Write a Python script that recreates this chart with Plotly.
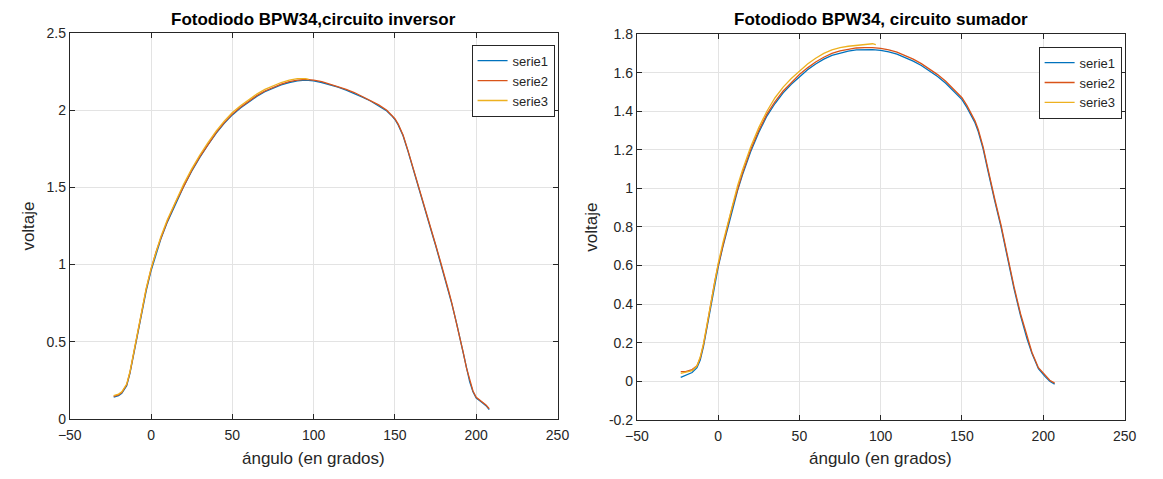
import plotly.graph_objects as go

# ---------------- data: left panel (circuito inversor) ----------------
inv_x12 = [-23, -20, -18, -15, -13, -11, -9, -6, -3, 0, 3, 6, 10, 15, 20, 25, 30, 35, 40, 45,
           50, 55, 60, 65, 70, 75, 80, 85, 90, 95, 100, 105, 110, 115, 120, 125, 130, 135, 140, 145,
           148, 150, 152, 155, 158, 160, 163, 165, 168, 170, 173, 175, 178, 180, 183, 185, 188, 190,
           192, 194, 196, 198, 200, 203, 206, 208]
inv_s1 = [0.14, 0.15, 0.165, 0.215, 0.295, 0.40, 0.51, 0.67, 0.83, 0.96, 1.07, 1.165, 1.275, 1.395, 1.505, 1.605, 1.695, 1.775, 1.85, 1.915,
          1.97, 2.015, 2.055, 2.09, 2.12, 2.145, 2.165, 2.18, 2.19, 2.195, 2.19, 2.18, 2.165, 2.15, 2.13, 2.11, 2.085, 2.06, 2.03, 1.995,
          1.965, 1.94, 1.905, 1.835, 1.735, 1.665, 1.555, 1.485, 1.375, 1.305, 1.195, 1.125, 1.015, 0.945, 0.825, 0.745, 0.615, 0.525,
          0.425, 0.325, 0.24, 0.175, 0.135, 0.11, 0.085, 0.06]
inv_s2 = [0.145, 0.155, 0.17, 0.22, 0.30, 0.41, 0.52, 0.68, 0.84, 0.97, 1.08, 1.17, 1.28, 1.40, 1.51, 1.61, 1.70, 1.78, 1.855, 1.92,
          1.975, 2.02, 2.06, 2.095, 2.125, 2.15, 2.17, 2.185, 2.195, 2.20, 2.195, 2.185, 2.17, 2.155, 2.135, 2.115, 2.09, 2.065, 2.035, 2.0,
          1.97, 1.945, 1.91, 1.84, 1.74, 1.67, 1.56, 1.49, 1.38, 1.31, 1.20, 1.13, 1.02, 0.95, 0.83, 0.75, 0.62, 0.53,
          0.43, 0.33, 0.245, 0.18, 0.14, 0.115, 0.09, 0.065]
inv_x3 = [-23, -20, -18, -15, -13, -11, -9, -6, -3, 0, 3, 6, 10, 15, 20, 25, 30, 35, 40, 45,
          50, 55, 60, 65, 70, 75, 80, 85, 90, 95, 97]
inv_s3 = [0.15, 0.16, 0.175, 0.225, 0.305, 0.41, 0.525, 0.685, 0.845, 0.975, 1.085, 1.18, 1.29, 1.41, 1.52, 1.62, 1.71, 1.79, 1.865, 1.93,
          1.985, 2.03, 2.07, 2.105, 2.135, 2.16, 2.18, 2.195, 2.205, 2.205, 2.20]

# ---------------- data: right panel (circuito sumador) ----------------
sum_x12 = [-23, -20, -16, -13, -11, -9, -7, -5, -2, 0, 3, 6, 9, 12, 15, 20, 25, 30, 35, 40,
           45, 50, 55, 60, 65, 70, 75, 80, 85, 90, 95, 100, 105, 110, 115, 120, 125, 130, 135, 140,
           145, 150, 153, 156, 158, 160, 163, 166, 168, 170, 174, 178, 182, 186, 190, 193, 197, 201, 204, 207]
sum_s1 = [0.02, 0.03, 0.045, 0.07, 0.11, 0.18, 0.27, 0.37, 0.51, 0.59, 0.70, 0.80, 0.90, 0.99, 1.07, 1.19, 1.29, 1.375, 1.44, 1.495,
          1.54, 1.58, 1.615, 1.645, 1.67, 1.69, 1.703, 1.712, 1.718, 1.72, 1.72, 1.716, 1.708, 1.696, 1.68, 1.66, 1.637, 1.61, 1.58, 1.545,
          1.505, 1.46, 1.42, 1.375, 1.34, 1.295, 1.205, 1.09, 1.01, 0.94, 0.80, 0.64, 0.48, 0.34, 0.22, 0.145, 0.065, 0.025, 0.0, -0.015]
sum_s2 = [0.05, 0.05, 0.06, 0.08, 0.12, 0.19, 0.28, 0.38, 0.52, 0.60, 0.71, 0.81, 0.91, 1.0, 1.08, 1.20, 1.30, 1.385, 1.45, 1.505,
          1.55, 1.59, 1.625, 1.655, 1.68, 1.70, 1.713, 1.722, 1.728, 1.73, 1.73, 1.726, 1.718, 1.706, 1.69, 1.67, 1.647, 1.62, 1.59, 1.555,
          1.515, 1.47, 1.43, 1.385, 1.35, 1.305, 1.215, 1.10, 1.02, 0.95, 0.81, 0.65, 0.49, 0.35, 0.23, 0.15, 0.07, 0.03, 0.005, -0.01]
sum_x3 = [-23, -20, -16, -13, -11, -9, -7, -5, -2, 0, 3, 6, 9, 12, 15, 20, 25, 30, 35, 40,
          45, 50, 55, 60, 65, 70, 75, 80, 85, 90, 95, 97]
sum_s3 = [0.04, 0.045, 0.055, 0.08, 0.125, 0.195, 0.29, 0.39, 0.53, 0.61, 0.72, 0.82, 0.925, 1.015, 1.095, 1.215, 1.315, 1.40, 1.47, 1.525,
          1.57, 1.61, 1.645, 1.675, 1.70, 1.718, 1.73, 1.737, 1.742, 1.745, 1.75, 1.745]

series_names = ["serie1", "serie2", "serie3"]
colors = ["#0072BD", "#D95319", "#EDB120"]

x_ticks = [-50, 0, 50, 100, 150, 200, 250]
inv_yticks = [0, 0.5, 1, 1.5, 2, 2.5]
inv_ytext = ["0", "0.5", "1", "1.5", "2", "2.5"]
sum_yticks = [-0.2, 0, 0.2, 0.4, 0.6, 0.8, 1, 1.2, 1.4, 1.6, 1.8]
sum_ytext = ["-0.2", "0", "0.2", "0.4", "0.6", "0.8", "1", "1.2", "1.4", "1.6", "1.8"]

W, H = 1163, 479
FONT = "Liberation Sans, Arial, sans-serif"
TXT = "#262626"

fig = go.Figure()

left = [(inv_x12, inv_s1), (inv_x12, inv_s2), (inv_x3, inv_s3)]
right = [(sum_x12, sum_s1), (sum_x12, sum_s2), (sum_x3, sum_s3)]
for i, (xs, ys) in enumerate(left):
    fig.add_trace(go.Scatter(x=xs, y=ys, mode="lines", name=series_names[i],
                             line=dict(color=colors[i], width=1.3),
                             xaxis="x", yaxis="y", legend="legend"))
for i, (xs, ys) in enumerate(right):
    fig.add_trace(go.Scatter(x=xs, y=ys, mode="lines", name=series_names[i],
                             line=dict(color=colors[i], width=1.3),
                             xaxis="x2", yaxis="y2", legend="legend2"))


def px_x(p):
    return p / W


def px_y(p):
    return 1 - p / H


L_dom = [px_x(59), px_x(557)]
L_ydom = [px_y(425), px_y(26)]
R_dom = [px_x(638), px_x(1136)]
R_ydom = [px_y(426), px_y(27)]

axis_common = dict(showline=True, linecolor=TXT, linewidth=1, mirror="ticks",
                   ticks="inside", ticklen=5, tickcolor=TXT,
                   showgrid=True, gridcolor="#e3e3e3", gridwidth=1, zeroline=False,
                   tickfont=dict(family=FONT, size=14, color=TXT))

fig.update_layout(
    width=W, height=H,
    margin=dict(l=0, r=0, t=0, b=0),
    paper_bgcolor="white", plot_bgcolor="white",
    font=dict(family=FONT, color=TXT),
    xaxis=dict(domain=L_dom, range=[-50, 250], tickvals=x_ticks, anchor="y",
               ticklabelstandoff=3, **axis_common),
    yaxis=dict(domain=L_ydom, range=[0, 2.5], tickvals=inv_yticks, ticktext=inv_ytext, anchor="x", **axis_common),
    xaxis2=dict(domain=R_dom, range=[-50, 250], tickvals=x_ticks, anchor="y2",
                ticklabelstandoff=3, **axis_common),
    yaxis2=dict(domain=R_ydom, range=[-0.2, 1.8], tickvals=sum_yticks, ticktext=sum_ytext, anchor="x2", **axis_common),
    legend=dict(x=px_x(554), y=px_y(38), xanchor="right", yanchor="top",
                bgcolor="white", bordercolor=TXT, borderwidth=1,
                font=dict(family=FONT, size=13, color=TXT), tracegroupgap=0),
    legend2=dict(x=px_x(1133), y=px_y(40), xanchor="right", yanchor="top",
                 bgcolor="white", bordercolor=TXT, borderwidth=1,
                 font=dict(family=FONT, size=13, color=TXT), tracegroupgap=0),
    annotations=[
        dict(text="<b>Fotodiodo BPW34,circuito inversor</b>", x=(L_dom[0] + L_dom[1]) / 2, y=px_y(12),
             xanchor="center", yanchor="middle",
             xref="paper", yref="paper", showarrow=False, font=dict(family=FONT, size=17, color="#000000")),
        dict(text="<b>Fotodiodo BPW34, circuito sumador</b>", x=(R_dom[0] + R_dom[1]) / 2, y=px_y(12),
             xanchor="center", yanchor="middle",
             xref="paper", yref="paper", showarrow=False, font=dict(family=FONT, size=17, color="#000000")),
        dict(text="ángulo (en grados)", x=(L_dom[0] + L_dom[1]) / 2, y=px_y(466),
             xanchor="center", yanchor="middle",
             xref="paper", yref="paper", showarrow=False, font=dict(family=FONT, size=17, color=TXT)),
        dict(text="ángulo (en grados)", x=(R_dom[0] + R_dom[1]) / 2, y=px_y(466),
             xanchor="center", yanchor="middle",
             xref="paper", yref="paper", showarrow=False, font=dict(family=FONT, size=17, color=TXT)),
        dict(text="voltaje", x=px_x(17), y=(L_ydom[0] + L_ydom[1]) / 2, textangle=-90,
             xanchor="center", yanchor="middle",
             xref="paper", yref="paper", showarrow=False, font=dict(family=FONT, size=17, color=TXT)),
        dict(text="voltaje", x=px_x(592), y=(R_ydom[0] + R_ydom[1]) / 2, textangle=-90,
             xanchor="center", yanchor="middle",
             xref="paper", yref="paper", showarrow=False, font=dict(family=FONT, size=17, color=TXT)),
    ],
)

fig.write_html("out.html")
